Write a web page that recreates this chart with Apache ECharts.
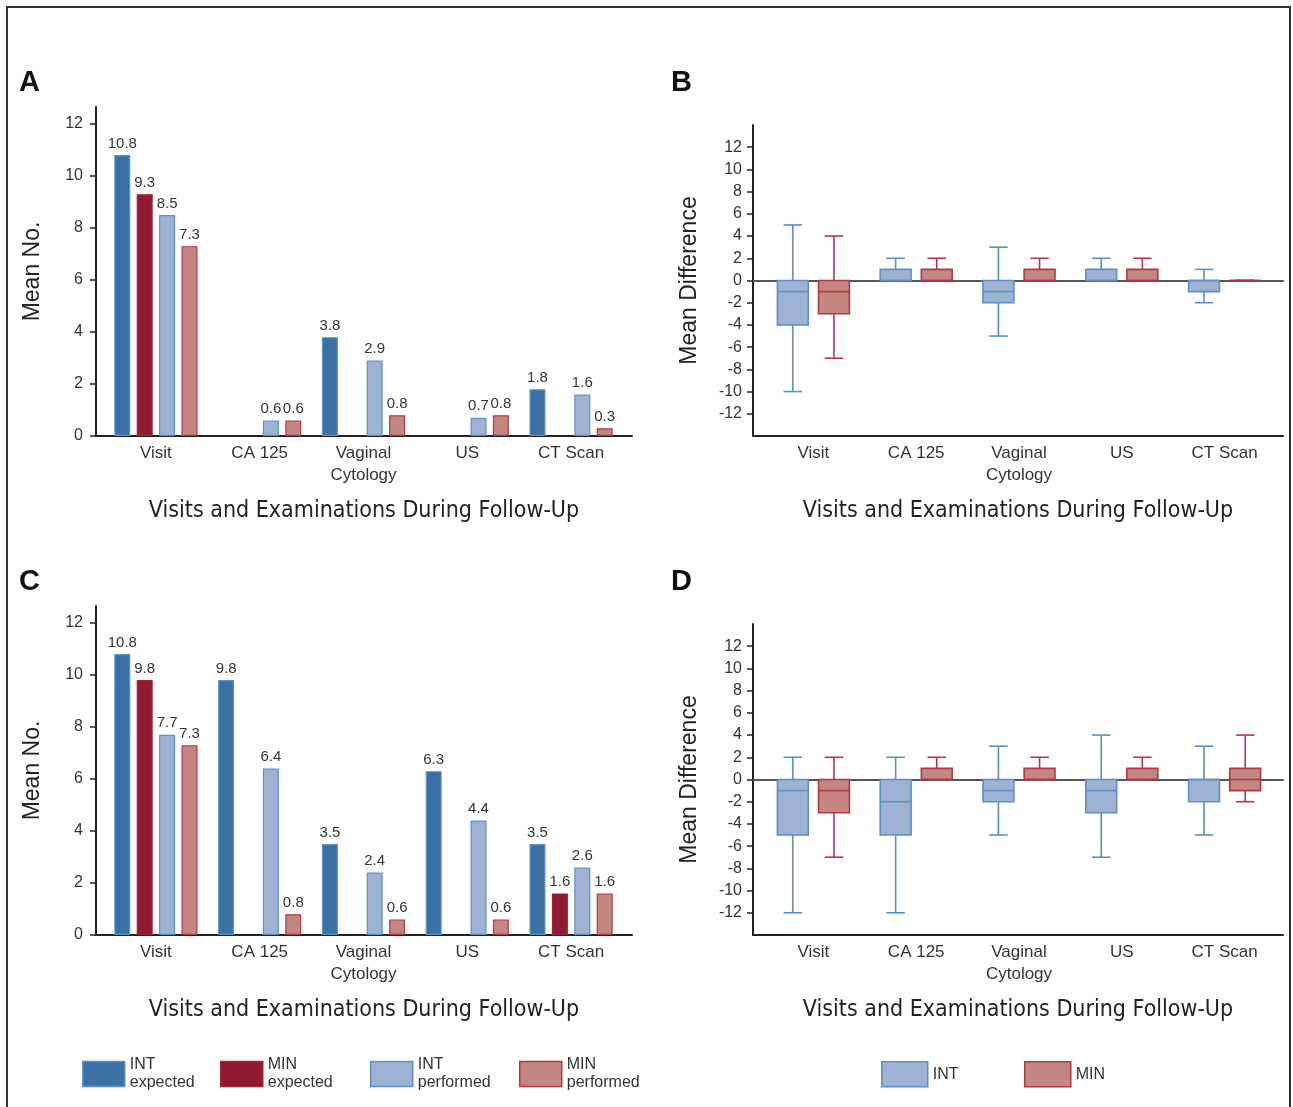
<!DOCTYPE html>
<html>
<head>
<meta charset="utf-8">
<title>Visits and Examinations During Follow-Up</title>
<script src="https://cdn.jsdelivr.net/npm/echarts@6/dist/echarts.min.js"></script>
<style>
  html, body { margin: 0; padding: 0; background: #fff; }
  #main { width: 1293px; height: 1107px; }
</style>
</head>
<body>
<div id="main"></div>
<script type="text/javascript">
var categories = ['Visit', 'CA 125', 'Vaginal\nCytology', 'US', 'CT Scan'];
var barNames = ['INT expected', 'MIN expected', 'INT performed', 'MIN performed'];
var boxNames = ['INT', 'MIN'];

// panel A - mean number
var aIntExpected = [10.8, null, 3.8, null, 1.8];
var aMinExpected = [9.3, null, null, null, null];
var aIntPerformed = [8.5, 0.6, 2.9, 0.7, 1.6];
var aMinPerformed = [7.3, 0.6, 0.8, 0.8, 0.3];

// panel C - mean number
var cIntExpected = [10.8, 9.8, 3.5, 6.3, 3.5];
var cMinExpected = [9.8, null, null, null, 1.6];
var cIntPerformed = [7.7, 6.4, 2.4, 4.4, 2.6];
var cMinPerformed = [7.3, 0.8, 0.6, 0.6, 1.6];

// panels B and D - mean difference, [min, q1, median, q3, max]
var bInt = [[-10, -4, -1, 0, 5], [0, 0, 0, 1, 2], [-5, -2, -1, 0, 3], [0, 0, 0, 1, 2], [-2, -1, 0, 0, 1]];
var bMin = [[-7, -3, -1, 0, 4], [0, 0, 0, 1, 2], [0, 0, 0, 1, 2], [0, 0, 0, 1, 2], [0, 0, 0, 0, 0]];
var dInt = [[-12, -5, -1, 0, 2], [-12, -5, -2, 0, 2], [-5, -2, -1, 0, 3], [-7, -3, -1, 0, 4], [-5, -2, 0, 0, 3]];
var dMin = [[-7, -3, -1, 0, 2], [0, 0, 0, 1, 2], [0, 0, 0, 1, 2], [0, 0, 0, 1, 2], [-2, -1, 0, 1, 4]];

var countTicks = [0, 2, 4, 6, 8, 10, 12];
var diffTicks = [-12, -10, -8, -6, -4, -2, 0, 2, 4, 6, 8, 10, 12];

var FONT = "'Liberation Sans', Arial, sans-serif";
var NARROW = "'Liberation Sans Narrow', 'Arial Narrow', 'DejaVu Sans Condensed', sans-serif";
var TEXT = '#333';
var AXIS = '#222';

var INT_EXP = '#3a71a4', INT_EXP_LINE = '#5d8fc3';
var MIN_EXP = '#8e1b2f', MIN_EXP_LINE = '#a22238';
var INT_FILL = '#9eb3d3', INT_LINE = '#5b8fc5';
var MIN_FILL = '#c4877f', MIN_LINE = '#b3364b';

var barFill = [INT_EXP, MIN_EXP, INT_FILL, MIN_FILL];
var barLine = [INT_EXP_LINE, MIN_EXP_LINE, INT_LINE, MIN_LINE];

var chart = echarts.init(document.getElementById('main'));

// each panel has a "frame" grid that carries the axis lines, ticks and names,
// and an inner grid a little narrower where the categories live
var panels = [
    {frame: [96, 107, 536, 329], inner: [104, 519], yMin: 0, yMax: 12.65, ticks: countTicks, yName: 'Mean No.', box: false},
    {frame: [753, 125, 530, 311], inner: [762, 514], yMin: -14, yMax: 14, ticks: diffTicks, yName: 'Mean Difference', box: true},
    {frame: [96, 606, 536, 329], inner: [104, 519], yMin: 0, yMax: 12.65, ticks: countTicks, yName: 'Mean No.', box: false},
    {frame: [753, 624, 530, 311], inner: [762, 514], yMin: -14, yMax: 14, ticks: diffTicks, yName: 'Mean Difference', box: true}
];

var grids = [], xAxes = [], yAxes = [];
var innerX = [], innerY = [];

panels.forEach(function (p) {
    var f = p.frame;
    var gFrame = grids.length;
    grids.push({left: f[0], top: f[1], width: f[2], height: f[3]});
    grids.push({left: p.inner[0], top: f[1], width: p.inner[1], height: f[3]});

    xAxes.push({
        gridIndex: gFrame, type: 'value', min: 0, max: 1, position: 'bottom',
        axisLine: {onZero: false, lineStyle: {color: AXIS, width: 2}},
        axisTick: {show: false}, axisLabel: {show: false}, splitLine: {show: false},
        name: 'Visits and Examinations During Follow-Up', nameLocation: 'middle', nameGap: 64,
        nameTextStyle: {fontFamily: NARROW, fontSize: 23, color: '#222'}
    });
    if (p.box) {
        xAxes.push({
            gridIndex: gFrame, type: 'value', min: 0, max: 1, position: 'bottom',
            axisLine: {onZero: true, lineStyle: {color: '#555', width: 2}},
            axisTick: {show: false}, axisLabel: {show: false}, splitLine: {show: false}
        });
    }
    yAxes.push({
        gridIndex: gFrame, type: 'value', min: p.yMin, max: p.yMax,
        axisLine: {show: true, onZero: false, lineStyle: {color: AXIS, width: 2}},
        axisTick: {show: true, length: 6, customValues: p.ticks, lineStyle: {color: AXIS, width: 1.5}},
        axisLabel: {customValues: p.ticks, margin: p.box ? 11 : 13, fontFamily: FONT, fontSize: 16, color: TEXT},
        splitLine: {show: false},
        name: p.yName, nameLocation: 'middle', nameGap: 52,
        nameTextStyle: {fontFamily: FONT, fontSize: 23, color: '#222'}
    });

    innerX.push(xAxes.length);
    xAxes.push({
        gridIndex: gFrame + 1, type: 'category', data: categories,
        axisLine: {show: false}, axisTick: {show: false},
        axisLabel: {margin: 6, fontFamily: FONT, fontSize: 17, lineHeight: 22, color: TEXT}
    });
    innerY.push(yAxes.length);
    yAxes.push({gridIndex: gFrame + 1, type: 'value', min: p.yMin, max: p.yMax, show: false});
});

function barSeries(panel, values) {
    return values.map(function (vals, i) {
        return {
            name: barNames[i], type: 'bar',
            xAxisIndex: innerX[panel], yAxisIndex: innerY[panel],
            data: vals, barWidth: 16, barGap: '40%',
            itemStyle: {color: barFill[i], borderColor: barLine[i], borderWidth: 1.2},
            label: {
                show: true, position: 'top', distance: 4,
                fontFamily: FONT, fontSize: 15, color: TEXT,
                formatter: function (p) { return p.value.toFixed(1); }
            }
        };
    });
}

function boxRenderer(shift, lineColor, fillColor) {
    return function (params, api) {
        var cat = api.value(0);
        var band = api.size([1, 0])[0];
        var cx = api.coord([cat, 0])[0] + band * shift;
        var half = band * 0.15, capHalf = band * 0.09;
        var yMin = api.coord([cat, api.value(1)])[1];
        var yQ1 = api.coord([cat, api.value(2)])[1];
        var yMed = api.coord([cat, api.value(3)])[1];
        var yQ3 = api.coord([cat, api.value(4)])[1];
        var yMax = api.coord([cat, api.value(5)])[1];
        function ls() { return {stroke: lineColor, lineWidth: 1.6}; }
        return {
            type: 'group',
            children: [
                {type: 'line', shape: {x1: cx, y1: yMax, x2: cx, y2: yQ3}, style: ls()},
                {type: 'line', shape: {x1: cx, y1: yQ1, x2: cx, y2: yMin}, style: ls()},
                {type: 'line', shape: {x1: cx - capHalf, y1: yMax, x2: cx + capHalf, y2: yMax}, style: ls()},
                {type: 'line', shape: {x1: cx - capHalf, y1: yMin, x2: cx + capHalf, y2: yMin}, style: ls()},
                {type: 'rect', shape: {x: cx - half, y: yQ3, width: half * 2, height: yQ1 - yQ3},
                    style: {fill: fillColor, stroke: lineColor, lineWidth: 1.6}},
                {type: 'line', shape: {x1: cx - half, y1: yMed, x2: cx + half, y2: yMed}, style: ls()}
            ]
        };
    };
}

function boxSeries(panel, stats, name, shift, lineColor, fillColor) {
    return {
        name: name, type: 'custom',
        xAxisIndex: innerX[panel], yAxisIndex: innerY[panel],
        data: stats.map(function (s, i) { return [i].concat(s); }),
        encode: {x: 0, y: [1, 2, 3, 4, 5]},
        itemStyle: {color: fillColor, borderColor: lineColor},
        renderItem: boxRenderer(shift, lineColor, fillColor)
    };
}

var series = []
    .concat(barSeries(0, [aIntExpected, aMinExpected, aIntPerformed, aMinPerformed]))
    .concat(barSeries(2, [cIntExpected, cMinExpected, cIntPerformed, cMinPerformed]))
    .concat([
        boxSeries(1, bInt, 'INT', -0.2, INT_LINE, INT_FILL),
        boxSeries(1, bMin, 'MIN', 0.2, MIN_LINE, MIN_FILL),
        boxSeries(3, dInt, 'INT', -0.2, INT_LINE, INT_FILL),
        boxSeries(3, dMin, 'MIN', 0.2, MIN_LINE, MIN_FILL)
    ]);

function legendAt(name, left, top, fill, stroke) {
    return {
        data: [{name: name, itemStyle: {color: fill, borderColor: stroke, borderWidth: 1.5}}],
        left: left, top: top, padding: 0, icon: 'rect', itemWidth: 42, itemHeight: 25,
        selectedMode: false,
        formatter: function (n) { return n.replace(' ', '\n'); },
        textStyle: {fontFamily: FONT, fontSize: 16, lineHeight: 18, color: TEXT}
    };
}

var legends = [
    legendAt(barNames[0], 82, 1056, INT_EXP, INT_EXP_LINE),
    legendAt(barNames[1], 220, 1056, MIN_EXP, MIN_EXP_LINE),
    legendAt(barNames[2], 370, 1056, INT_FILL, INT_LINE),
    legendAt(barNames[3], 519, 1056, MIN_FILL, MIN_LINE),
    legendAt(boxNames[0], 881, 1061, INT_FILL, INT_LINE),
    legendAt(boxNames[1], 1024, 1061, MIN_FILL, MIN_LINE)
];
legends[4].itemWidth = 46; legends[5].itemWidth = 46;

function panelLetter(t, x, y) {
    return {type: 'text', x: x, y: y, style: {text: t, font: 'bold 29px ' + FONT, fill: '#111', verticalAlign: 'middle'}};
}

var option = {
    animation: false,
    backgroundColor: '#fff',
    grid: grids,
    xAxis: xAxes,
    yAxis: yAxes,
    legend: legends,
    series: series,
    graphic: [
        {type: 'rect', shape: {x: 7, y: 7, width: 1283, height: 1112}, style: {fill: 'none', stroke: '#333', lineWidth: 2}, z: -1},
        panelLetter('A', 19, 83),
        panelLetter('B', 671, 83),
        panelLetter('C', 19, 582),
        panelLetter('D', 671, 582)
    ]
};

chart.setOption(option);
</script>
</body>
</html>
